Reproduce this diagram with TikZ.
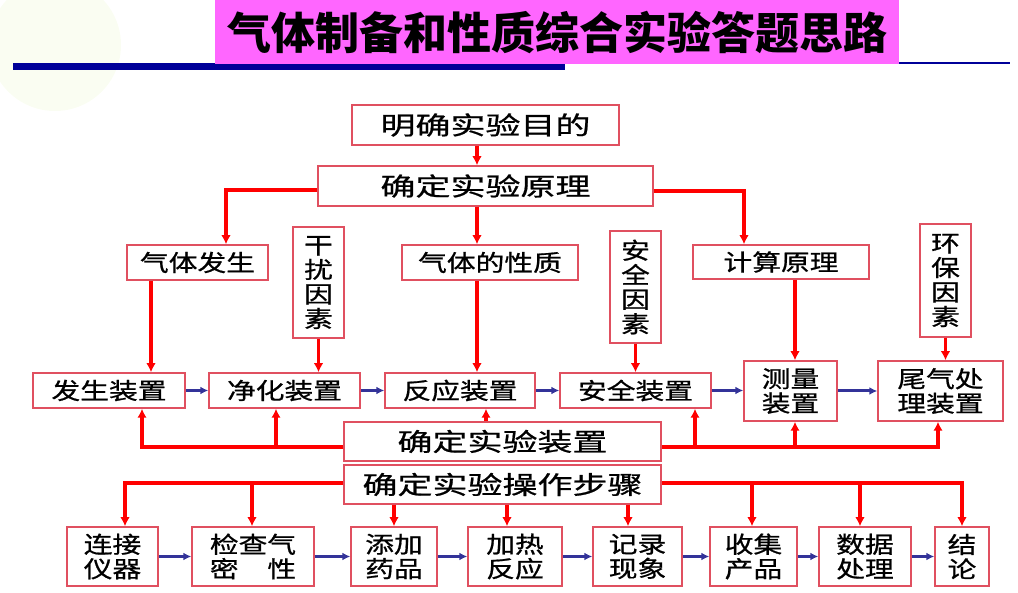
\documentclass[tikz,border=0pt]{standalone}
\usepackage{fontspec}
\newfontfamily\cjk[FakeStretch=1.25,FakeBold=0.8]{Noto Sans CJK SC}
\newfontfamily\cjkwide[FakeStretch=1.4,FakeBold=0.8]{Noto Sans CJK SC}
\newfontfamily\cjktitle{Noto Sans CJK SC}
\usetikzlibrary{arrows.meta}
\definecolor{boxred}{RGB}{224,80,96}
\definecolor{arrowblue}{RGB}{51,51,153}
\definecolor{titlepink}{RGB}{255,102,255}
\definecolor{barblue}{RGB}{0,0,153}
\definecolor{paleleaf}{RGB}{250,253,242}
\tikzset{
    box/.style={draw=boxred,line width=1.5pt,fill=white,inner sep=0pt,align=center,
        font=\cjk\fontsize{23}{24.5}\selectfont},
    bigbox/.style={box,font=\cjkwide\fontsize{25}{25}\selectfont},
    boxsize/.style 2 args={minimum width=#1pt,minimum height=#2pt},
    redline/.style={draw=red,line width=3.3pt},
    redarrow/.style={redline,-{Latex[length=9pt,width=9.5pt]}},
    bluearrow/.style={draw=arrowblue,line width=3pt,-{Latex[length=8pt,width=8pt]}}
}

\begin{document}
\begin{tikzpicture}[x=1pt,y=-1pt]
        \useasboundingbox (0,0) rectangle (1018,593);
        % slide background and title
        \fill[paleleaf] (55,45) circle (66);
        \fill[barblue] (13,63) rectangle (565,70);
        \draw[barblue,line width=2pt] (899,63) -- (1010,63);
        \node[fill=titlepink,inner sep=0pt,minimum width=684pt,minimum height=64pt,
            font=\cjktitle\bfseries\fontsize{44}{44}\selectfont] (title) at (557,32) {气体制备和性质综合实验答题思路};

        % purpose and principle
        \node[bigbox,boxsize={267}{40}] (goal)      at (485.5,125) {明确实验目的};
        \node[bigbox,boxsize={335}{40}] (principle) at (485.5,186) {确定实验原理};

        \begin{scope}[every node/.style={box}]
            \node[boxsize={141}{35}] (gen)    at (197.5,262.5) {气体发生};
            \node[boxsize={51}{111}] (noise)  at (318.5,282.5) {干\\扰\\因\\素};
            \node[boxsize={176}{35}] (prop)   at (490,262.5)   {气体的性质};
            \node[boxsize={51}{112}] (safety) at (635.5,287)   {安\\全\\因\\素};
            \node[boxsize={176}{34}] (calc)   at (781,262)     {计算原理};
            \node[boxsize={51}{113}] (env)    at (945.5,280.5) {环\\保\\因\\素};

            \node[boxsize={152}{35}] (genapp)  at (109,390.5)   {发生装置};
            \node[boxsize={151}{35}] (purify)  at (284.5,390.5) {净化装置};
            \node[boxsize={150}{35}] (react)   at (460,390.5)   {反应装置};
            \node[boxsize={151}{35}] (safeapp) at (635.5,390.5) {安全装置};
            \node[boxsize={93}{60}]  (measure) at (790.5,391)   {测量\\装置};
            \node[boxsize={125}{60}] (tail)    at (940.5,391)   {尾气处\\理装置};

            \node[boxsize={91}{59}] (connect) at (112.5,556.5) {连接\\仪器};
            \node[boxsize={122}{59}] (check)  at (253,556.5)   {检查气\\密　性};
            \node[boxsize={86}{59}] (addchem) at (394,556.5)   {添加\\药品};
            \node[boxsize={94}{59}] (heat)    at (515,556.5)   {加热\\反应};
            \node[boxsize={89}{59}] (record)  at (637.5,556.5) {记录\\现象};
            \node[boxsize={87}{59}] (collect) at (753.5,556.5) {收集\\产品};
            \node[boxsize={92}{59}] (data)    at (865,556.5)   {数据\\处理};
            \node[boxsize={54}{59}] (concl)   at (962,556.5)   {结\\论};
        \end{scope}

        \node[bigbox,boxsize={317}{39}] (device) at (502.5,441.5) {确定实验装置};
        \node[bigbox,boxsize={317}{39}] (steps)  at (502.5,484.5) {确定实验操作步骤};

        % columns of the red connectors
        \coordinate (cmid)   at (477,0);
        \coordinate (cgen)   at (226,0);
        \coordinate (ccalc)  at (744,0);
        \coordinate (cgapp)  at (151,0);
        \coordinate (cmeas)  at (795,0);
        \coordinate (cleft)  at (142,0);
        \coordinate (cpur)   at (276,0);
        \coordinate (cdev)   at (486,0);
        \coordinate (csafe)  at (695,0);
        \coordinate (ctail)  at (938,0);
        \coordinate (cheat)  at (507,0);
        \coordinate (crec)   at (628,0);
        \coordinate (ccoll)  at (752,0);
        \coordinate (cdata)  at (860,0);
        \coordinate (cchk)   at (252,0);
        \coordinate (ccon)   at (125,0);

        \begin{scope}[redarrow]
            \draw (goal.south -| cmid) -- (principle.north -| cmid);
            \draw ([yshift=-4pt]principle.west) -| (gen.north -| cgen);
            \draw ([yshift=-5pt]principle.east) -| (calc.north -| ccalc);
            \draw (principle.south -| cmid) -- (prop.north -| cmid);

            \draw (gen.south -| cgapp) -- (genapp.north -| cgapp);
            \draw (noise.south) -- (noise.south |- purify.north);
            \draw (prop.south -| cmid) -- (react.north -| cmid);
            \draw (safety.south) -- (safety.south |- safeapp.north);
            \draw (calc.south -| cmeas) -- (measure.north -| cmeas);
            \draw (env.south) -- (env.south |- tail.north);

            \draw ([yshift=-5.5pt]device.west) -| (genapp.south -| cleft);
            \draw ([yshift=-5.5pt]device.west -| cpur) -- (purify.south -| cpur);
            \draw (device.north -| cdev) -- (react.south -| cdev);
            \draw ([yshift=-5.5pt]device.east) -| (tail.south -| ctail);
            \draw ([yshift=-5.5pt]device.east -| csafe) -- (safeapp.south -| csafe);
            \draw ([yshift=-5.5pt]device.east -| cmeas) -- (measure.south -| cmeas);

            \draw ([yshift=1.5pt]steps.west) -| (connect.north -| ccon);
            \draw ([yshift=1.5pt]steps.west -| cchk) -- (check.north -| cchk);
            \draw ([yshift=1.5pt]steps.east) -| (concl.north);
            \draw ([yshift=1.5pt]steps.east -| ccoll) -- (collect.north -| ccoll);
            \draw ([yshift=1.5pt]steps.east -| cdata) -- (data.north -| cdata);
            \draw (steps.south -| addchem.north) -- (addchem.north);
            \draw (steps.south -| cheat) -- (heat.north -| cheat);
            \draw (steps.south -| crec) -- (record.north -| crec);
        \end{scope}

        % blue flow of the apparatus and of the steps
        \foreach \a/\b in {genapp/purify,purify/react,react/safeapp,safeapp/measure,measure/tail,
                connect/check,check/addchem,addchem/heat,heat/record,record/collect,collect/data,data/concl}
            {\draw[bluearrow] (\a.east) -- (\a.east -| \b.west);}
    \end{tikzpicture}
\end{document}
